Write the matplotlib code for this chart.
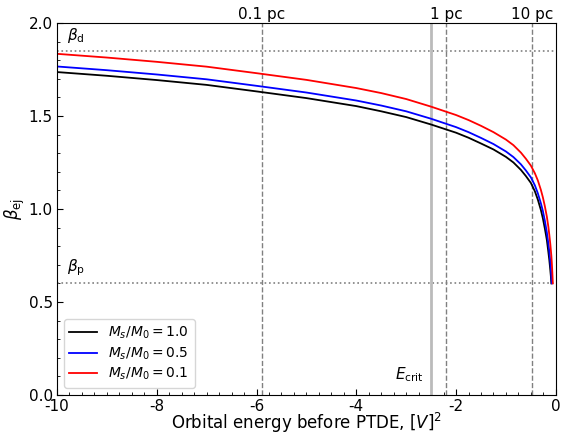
import matplotlib
matplotlib.use("Agg")
import matplotlib.pyplot as plt
from matplotlib.ticker import MultipleLocator

plt.rcParams["axes.unicode_minus"] = False

# Ejection beta versus orbital energy for three mass ratios
E_black = [-10, -9, -8, -7, -6, -5, -4, -3.5, -3, -2.5, -2, -1.75, -1.5, -1.25,
           -1.0, -0.85, -0.7, -0.6, -0.5, -0.42, -0.36, -0.30, -0.26, -0.22,
           -0.18, -0.15, -0.13, -0.11, -0.10, -0.09]
beta_black = [1.736, 1.716, 1.693, 1.667, 1.632, 1.596, 1.553, 1.525, 1.494, 1.454,
              1.410, 1.383, 1.352, 1.320, 1.280, 1.250, 1.210, 1.177, 1.140, 1.095,
              1.050, 0.995, 0.950, 0.895, 0.834, 0.770, 0.725, 0.670, 0.640, 0.600]

E_blue = [-10, -9, -8, -7, -6, -5, -4, -3.5, -3, -2.5, -2, -1.75, -1.5, -1.25,
          -1.0, -0.85, -0.7, -0.6, -0.5, -0.42, -0.36, -0.30, -0.26, -0.22,
          -0.18, -0.15, -0.13, -0.11, -0.10, -0.09, -0.08]
beta_blue = [1.766, 1.746, 1.723, 1.697, 1.662, 1.626, 1.583, 1.556, 1.525, 1.485,
             1.440, 1.413, 1.382, 1.349, 1.309, 1.279, 1.240, 1.207, 1.170, 1.127,
             1.084, 1.031, 0.990, 0.937, 0.874, 0.815, 0.770, 0.715, 0.680, 0.640,
             0.600]

E_red = [-10, -9, -8, -7, -6, -5, -4, -3.5, -3, -2.5, -2, -1.75, -1.5, -1.25,
         -1.0, -0.85, -0.7, -0.6, -0.5, -0.42, -0.36, -0.30, -0.26, -0.22,
         -0.18, -0.15, -0.13, -0.11, -0.09, -0.08, -0.07, -0.06]
beta_red = [1.834, 1.814, 1.791, 1.765, 1.730, 1.694, 1.650, 1.623, 1.591, 1.550,
            1.505, 1.478, 1.447, 1.413, 1.373, 1.343, 1.303, 1.270, 1.233, 1.192,
            1.153, 1.103, 1.063, 1.015, 0.959, 0.905, 0.860, 0.810, 0.750, 0.710,
            0.660, 0.600]

ratios = ["1.0", "0.5", "0.1"]
colors = ["black", "blue", "red"]

beta_d = 1.85
beta_p = 0.6
E_crit = -2.5
dist_E = [-5.9, -2.2, -0.48]
dist_labels = ["0.1 pc", "1 pc", "10 pc"]

fig = plt.figure(figsize=(5.62, 4.33), dpi=100)
ax = fig.add_axes([0.1014, 0.0878, 0.8876, 0.8592])

ax.axhline(beta_d, color="gray", ls=":", lw=1.2)
ax.axhline(beta_p, color="gray", ls=":", lw=1.2)
ax.axvline(E_crit, color="#bbbbbb", lw=2.0)
for e in dist_E:
    ax.axvline(e, color="gray", ls="--", lw=1.0)

for E, b, r, c in zip([E_black, E_blue, E_red], [beta_black, beta_blue, beta_red],
                      ratios, colors):
    ax.plot(E, b, color=c, lw=1.3, label=r"$M_s/M_0 = %s$" % r)

ax.set_xlim(-10, 0)
ax.set_ylim(0, 2.0)
ax.xaxis.set_major_locator(MultipleLocator(2))
ax.xaxis.set_minor_locator(MultipleLocator(0.25))
ax.yaxis.set_major_locator(MultipleLocator(0.5))
ax.yaxis.set_minor_locator(MultipleLocator(0.1))
ax.tick_params(which="both", direction="in", labelsize=11, pad=3)
ax.tick_params(which="major", length=4)
ax.tick_params(which="minor", length=2)

ax.set_xlabel(r"Orbital energy before PTDE, $[V]^2$", fontsize=12, labelpad=-2)
ax.set_ylabel(r"$\beta_{\rm ej}$", fontsize=12, labelpad=1)

ax.text(-9.8, beta_d + 0.03, r"$\beta_{\rm d}$", fontsize=11, va="bottom")
ax.text(-9.8, beta_p + 0.03, r"$\beta_{\rm p}$", fontsize=11, va="bottom")
ax.text(E_crit - 0.15, 0.06, r"$E_{\rm crit}$", fontsize=11, ha="right", va="bottom")

for e, lab in zip(dist_E, dist_labels):
    ax.text(e, 2.005, lab, fontsize=11, ha="center", va="bottom")

ax.legend(loc="lower left", fontsize=10, frameon=True, handlelength=2.0,
          labelspacing=0.3)

fig.savefig("out.png", dpi=100)
